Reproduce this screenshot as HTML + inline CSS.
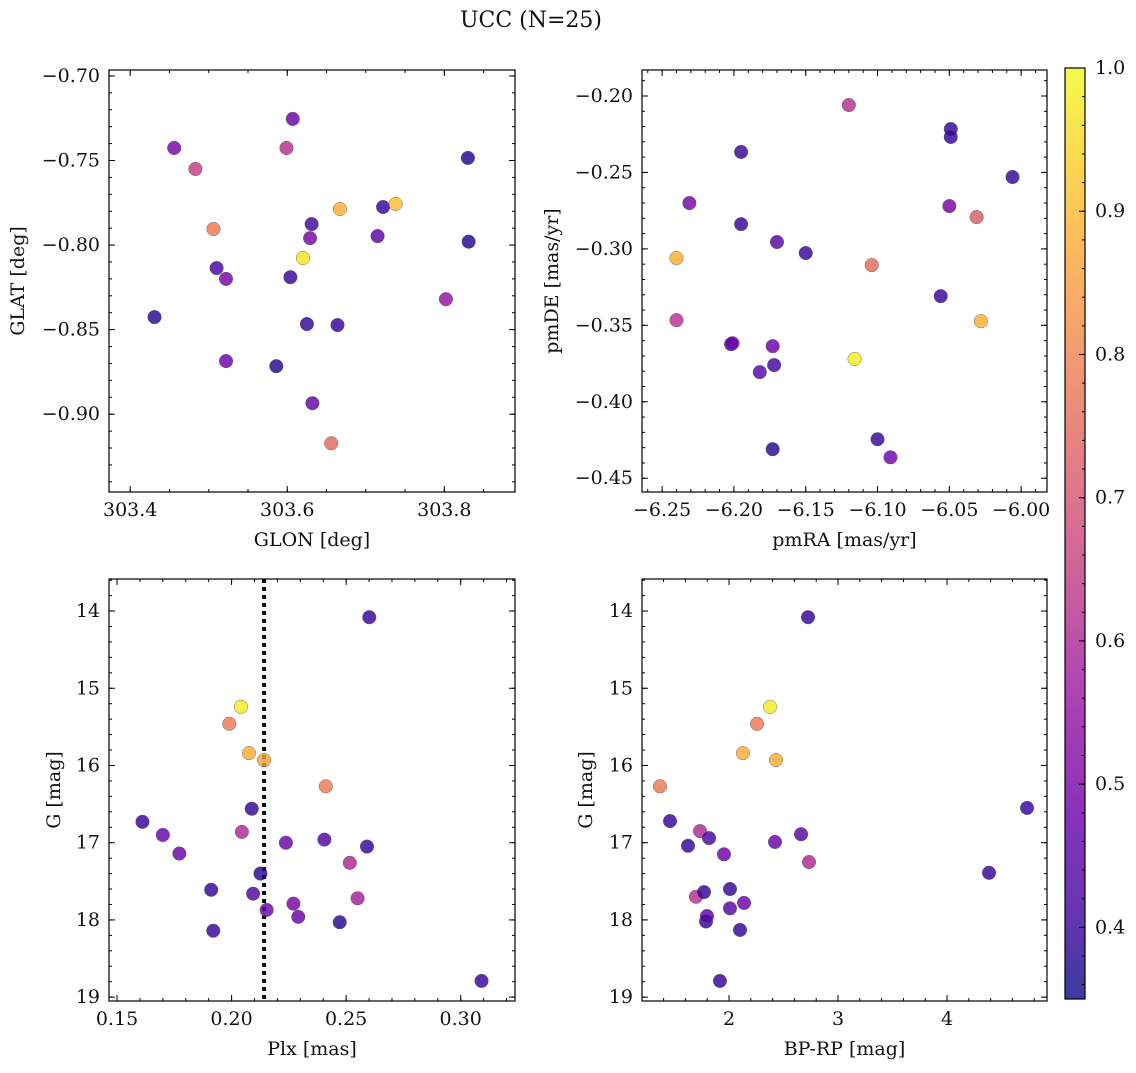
<!DOCTYPE html>
<html><head><meta charset="utf-8"><style>
body{margin:0;background:#fff}
svg text{font-family:"DejaVu Serif","Liberation Serif",serif;fill:#111}
</style></head><body>
<svg id="fig" width="1136" height="1068" viewBox="0 0 1136 1068" xmlns="http://www.w3.org/2000/svg">
<defs><linearGradient id="plasma" x1="0" y1="1" x2="0" y2="0"></linearGradient></defs>
<text x="531" y="27" font-size="22" text-anchor="middle">UCC (N=25)</text>
</svg>
<script>
// Panel 1: GLON vs GLAT
const glon=[303.431,303.456,303.483,303.506,303.510,303.522,303.522,303.586,303.599,303.604,303.607,303.620,303.625,303.629,303.631,303.632,303.656,303.664,303.667,303.715,303.722,303.738,303.802,303.830,303.831];
const glat=[-0.8426,-0.7426,-0.755,-0.7905,-0.8136,-0.820,-0.8686,-0.8716,-0.7426,-0.819,-0.7254,-0.8077,-0.8467,-0.7959,-0.7876,-0.8935,-0.9172,-0.8473,-0.7787,-0.7947,-0.7775,-0.7757,-0.832,-0.7485,-0.798];
const probA=[0.38,0.5,0.65,0.78,0.43,0.5,0.48,0.38,0.62,0.4,0.48,0.97,0.4,0.5,0.42,0.47,0.75,0.4,0.88,0.46,0.4,0.9,0.55,0.38,0.38];
// Panel 2: pmRA vs pmDE
const pmra=[-6.240,-6.240,-6.231,-6.202,-6.201,-6.195,-6.195,-6.182,-6.173,-6.173,-6.172,-6.170,-6.150,-6.120,-6.116,-6.104,-6.100,-6.091,-6.056,-6.049,-6.049,-6.050,-6.031,-6.028,-6.006];
const pmde=[-0.306,-0.3466,-0.270,-0.3623,-0.3617,-0.2366,-0.2838,-0.3806,-0.431,-0.3636,-0.376,-0.2955,-0.3027,-0.2059,-0.372,-0.3106,-0.4245,-0.4363,-0.3309,-0.2216,-0.2268,-0.272,-0.2792,-0.3473,-0.253];
const probB=[0.88,0.62,0.5,0.45,0.48,0.4,0.4,0.45,0.38,0.48,0.42,0.45,0.4,0.62,0.98,0.75,0.4,0.48,0.4,0.4,0.4,0.5,0.72,0.88,0.4];
// Panel 3: Plx vs G
const plx=[0.2601,0.3091,0.2041,0.1990,0.2076,0.2142,0.2411,0.2088,0.1611,0.1700,0.2045,0.2237,0.2405,0.2591,0.1772,0.2516,0.2126,0.1911,0.2094,0.2550,0.2270,0.2153,0.2291,0.2472,0.1920];
const gC=[14.08,18.79,15.24,15.46,15.84,15.93,16.27,16.56,16.73,16.90,16.86,17.00,16.96,17.05,17.14,17.26,17.40,17.61,17.66,17.72,17.79,17.87,17.96,18.03,18.14];
const probC=[0.4,0.4,0.98,0.78,0.88,0.86,0.78,0.4,0.4,0.47,0.6,0.48,0.44,0.4,0.48,0.6,0.38,0.4,0.44,0.58,0.5,0.48,0.48,0.38,0.4];
const plxLine=0.2142;
// Panel 4: BP-RP vs G
const bprp=[1.367,1.459,1.624,1.697,1.734,1.771,1.789,1.798,1.817,1.917,1.954,2.009,2.009,2.101,2.128,2.138,2.257,2.376,2.422,2.431,2.661,2.725,2.734,4.385,4.734];
const gD=[16.27,16.72,17.04,17.70,16.85,17.64,18.02,17.95,16.94,18.79,17.15,17.60,17.85,18.13,15.84,17.78,15.46,15.24,16.99,15.93,16.89,14.08,17.25,17.39,16.55];
const probD=[0.78,0.4,0.4,0.62,0.6,0.4,0.4,0.45,0.42,0.4,0.48,0.4,0.45,0.4,0.88,0.48,0.78,0.98,0.48,0.88,0.45,0.4,0.6,0.4,0.4];
const ticks1x=[303.4,303.6,303.8], ticks1y=[-0.70,-0.75,-0.80,-0.85,-0.90];
const ticks2x=[-6.25,-6.20,-6.15,-6.10,-6.05,-6.00], ticks2y=[-0.20,-0.25,-0.30,-0.35,-0.40,-0.45];
const ticks3x=[0.15,0.20,0.25,0.30], ticksGy=[14,15,16,17,18,19];
const ticks4x=[2,3,4];
const cbTicks=[0.4,0.5,0.6,0.7,0.8,0.9,1.0];

const NS="http://www.w3.org/2000/svg";
const svg=document.getElementById('fig');
const stops=[[0,'#0d0887'],[0.1,'#41049d'],[0.2,'#6a00a8'],[0.3,'#8f0da4'],[0.4,'#b12a90'],[0.5,'#cc4778'],[0.6,'#e16462'],[0.7,'#f2844b'],[0.8,'#fca636'],[0.9,'#fcce25'],[1,'#f0f921']];
const VMIN=0.35,VMAX=1.0;
const TF=19, LF=19;
function hex(h){return [1,3,5].map(i=>parseInt(h.substr(i,2),16));}
function cmap(p){let t=Math.max(0,Math.min(1,(p-VMIN)/(VMAX-VMIN)));
 for(let i=0;i<stops.length-1;i++){if(t<=stops[i+1][0]){const a=hex(stops[i][1]),b=hex(stops[i+1][1]);const f=(t-stops[i][0])/(stops[i+1][0]-stops[i][0]);return 'rgb('+a.map((v,k)=>Math.round(v+(b[k]-v)*f)).join(',')+')';}}
 return stops[stops.length-1][1];}
function el(tag,attrs,parent){const e=document.createElementNS(NS,tag);for(const k in attrs)e.setAttribute(k,attrs[k]);(parent||svg).appendChild(e);return e;}
const grad=document.getElementById('plasma');
stops.forEach(s=>{el('stop',{offset:s[0],'stop-color':s[1],'stop-opacity':0.8},grad);});

function fmt(v,d){let s=v.toFixed(d);return s.replace('-','\u2212');}
function panel(o){
 const g=el('g',{});
 
 
 const sx=v=>o.x0+(v-o.xmin)/(o.xmax-o.xmin)*(o.x1-o.x0);
 const sy=o.invert?(v=>o.y0+(v-o.ymin)/(o.ymax-o.ymin)*(o.y1-o.y0)):(v=>o.y1-(v-o.ymin)/(o.ymax-o.ymin)*(o.y1-o.y0));
 if(o.vline!==undefined){const l=el('line',{x1:sx(o.vline),x2:sx(o.vline),y1:o.y0,y2:o.y1,stroke:'#000','stroke-width':4,'stroke-dasharray':'4,4'},g);
  
  }
 for(let i=0;i<o.xs.length;i++){const c=el('circle',{cx:sx(o.xs[i]),cy:sy(o.ys[i]),r:6.8,fill:cmap(o.ps[i]),'fill-opacity':0.82,stroke:'#555','stroke-width':0.4},g);
  
  }
 const fr=el('rect',{x:o.x0,y:o.y0,width:o.x1-o.x0,height:o.y1-o.y0,fill:'none',stroke:'#000','stroke-width':1.2},g);
 
 
 for(let v=Math.ceil(o.xmin/o.xminor-1e-9)*o.xminor;v<=o.xmax;v+=o.xminor){const X=sx(v);el('line',{x1:X,x2:X,y1:o.y1,y2:o.y1-3,stroke:'#000'},g);el('line',{x1:X,x2:X,y1:o.y0,y2:o.y0+3,stroke:'#000'},g);}
 for(let v=Math.ceil(o.ymin/o.yminor-1e-9)*o.yminor;v<=o.ymax;v+=o.yminor){const Y=sy(v);el('line',{x1:o.x0,x2:o.x0+3,y1:Y,y2:Y,stroke:'#000'},g);el('line',{x1:o.x1,x2:o.x1-3,y1:Y,y2:Y,stroke:'#000'},g);}
 o.xt.forEach(v=>{const X=sx(v);el('line',{x1:X,x2:X,y1:o.y1,y2:o.y1-6,stroke:'#000'},g);el('line',{x1:X,x2:X,y1:o.y0,y2:o.y0+6,stroke:'#000'},g);
  const t=el('text',{x:X,y:o.y1+24,'font-size':TF,'text-anchor':'middle'},g);t.textContent=fmt(v,o.xd);
  
  });
 o.yt.forEach(v=>{const Y=sy(v);el('line',{x1:o.x0,x2:o.x0+6,y1:Y,y2:Y,stroke:'#000'},g);el('line',{x1:o.x1,x2:o.x1-6,y1:Y,y2:Y,stroke:'#000'},g);
  const t=el('text',{x:o.x0-9,y:Y+6,'font-size':TF,'text-anchor':'end'},g);t.textContent=fmt(v,o.yd);
  
  });
 const xl=el('text',{x:(o.x0+o.x1)/2,y:o.y1+54,'font-size':LF,'text-anchor':'middle'},g);xl.textContent=o.xlabel;
 
 
 const yx=o.ylx,yy=(o.y0+o.y1)/2;
 const yl=el('text',{x:yx,y:yy,'font-size':LF,'text-anchor':'middle',transform:'rotate(-90 '+yx+' '+yy+')'},g);yl.textContent=o.ylabel;
 
 
}
panel({name:'glon-glat-panel',x0:109,x1:515,y0:70,y1:492,xmin:303.373,xmax:303.890,ymin:-0.946,ymax:-0.6965,xs:glon,ys:glat,ps:probA,xt:ticks1x,yt:ticks1y,xd:1,yd:2,xminor:0.05,yminor:0.01,xlabel:'GLON [deg]',ylabel:'GLAT [deg]',ylx:24});
panel({name:'pm-panel',x0:642,x1:1047,y0:70,y1:492,xmin:-6.264,xmax:-5.982,ymin:-0.459,ymax:-0.183,xs:pmra,ys:pmde,ps:probB,xt:ticks2x,yt:ticks2y,xd:2,yd:2,xminor:0.01,yminor:0.01,xlabel:'pmRA [mas/yr]',ylabel:'pmDE [mas/yr]',ylx:558});
panel({name:'plx-g-panel',x0:109,x1:515,y0:579,y1:1001,xmin:0.1465,xmax:0.3237,ymin:13.585,ymax:19.05,invert:true,xs:plx,ys:gC,ps:probC,xt:ticks3x,yt:ticksGy,xd:2,yd:0,xminor:0.01,yminor:0.2,xlabel:'Plx [mas]',ylabel:'G [mag]',ylx:60,vline:plxLine});
panel({name:'cmd-panel',x0:642,x1:1047,y0:579,y1:1001,xmin:1.202,xmax:4.917,ymin:13.585,ymax:19.05,invert:true,xs:bprp,ys:gD,ps:probD,xt:ticks4x,yt:ticksGy,xd:0,yd:0,xminor:0.2,yminor:0.2,xlabel:'BP-RP [mag]',ylabel:'G [mag]',ylx:592});
const cb=el('g',{});


const cx0=1065,cx1=1085,cy0=68,cy1=999,cmin=0.35,cmax=1.0;
el('rect',{x:cx0,y:cy0,width:cx1-cx0,height:cy1-cy0,fill:'url(#plasma)',stroke:'#000','stroke-width':1.2},cb);
const cy=v=>cy1-(v-cmin)/(cmax-cmin)*(cy1-cy0);
for(let v=0.36;v<=1.0001;v+=0.02){const Y=cy(v);el('line',{x1:cx1,x2:cx1-3,y1:Y,y2:Y,stroke:'#000'},cb);}
cbTicks.forEach(v=>{const Y=cy(v);el('line',{x1:cx1,x2:cx1-6,y1:Y,y2:Y,stroke:'#000'},cb);
 const t=el('text',{x:cx1+10,y:Y+6,'font-size':TF},cb);t.textContent=v.toFixed(1);
 
 });
</script>
</body></html>
